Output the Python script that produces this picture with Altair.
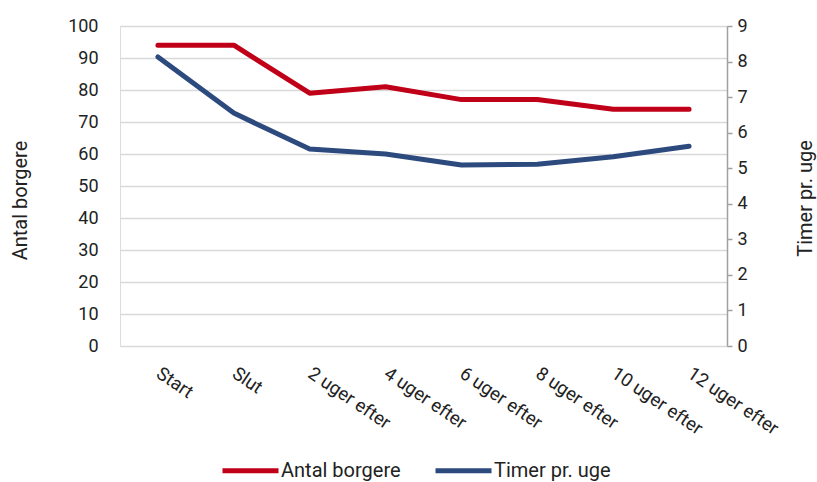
import altair as alt
import pandas as pd

# Measurement points along the x axis
periods = ["Start", "Slut", "2 uger efter", "4 uger efter", "6 uger efter",
           "8 uger efter", "10 uger efter", "12 uger efter"]
# Number of citizens (left axis)
borgere = [94, 94, 79, 81, 77, 77, 74, 74]
# Hours per week (right axis)
timer = [8.13, 6.55, 5.54, 5.40, 5.09, 5.11, 5.32, 5.62]

series_names = ["Antal borgere", "Timer pr. uge"]
series_colors = ["#C00018", "#2C4A7E"]

FONT = "Roboto"
TEXT = "#222222"

df_b = pd.DataFrame({"periode": periods, "value": borgere, "serie": series_names[0]})
df_t = pd.DataFrame({"periode": periods, "value": timer, "serie": series_names[1]})

x_enc = alt.X(
    "periode:O",
    sort=periods,
    scale=alt.Scale(type="point", padding=0.5),
    axis=alt.Axis(
        title=None, domain=False, ticks=False, labelAngle=34, labelAlign="left",
        labelBaseline="middle", labelPadding=25, labelFontSize=18.5, labelFont=FONT,
        labelColor=TEXT,
    ),
)

color_enc = alt.Color(
    "serie:N",
    scale=alt.Scale(domain=series_names, range=series_colors),
    legend=alt.Legend(
        title=None, orient="none", direction="horizontal", legendX=100, legendY=414,
        symbolType="stroke", symbolSize=3136, symbolStrokeWidth=5,
        labelFontSize=20, labelFont=FONT, labelColor=TEXT, labelOffset=0,
        columnPadding=24, labelLimit=300,
    ),
)

line_b = alt.Chart(df_b).mark_line(strokeWidth=5, strokeCap="round", strokeJoin="round").encode(
    x=x_enc,
    y=alt.Y(
        "value:Q",
        scale=alt.Scale(domain=[0, 100], nice=False),
        axis=alt.Axis(
            title="Antal borgere", values=list(range(0, 101, 10)), domain=False, ticks=False,
            grid=True, gridColor="#d9d9d9", gridWidth=1.5, labelFontSize=18, labelFont=FONT,
            labelColor=TEXT, labelPadding=22, titleFontSize=20, titleFont=FONT,
            titleFontWeight="normal", titleColor=TEXT, titleAngle=270,
            titleX=-100, titleY=174, titleAlign="center", titleBaseline="middle",
        ),
    ),
    color=color_enc,
)

line_t = alt.Chart(df_t).mark_line(strokeWidth=5, strokeCap="round", strokeJoin="round").encode(
    x=x_enc,
    y=alt.Y(
        "value:Q",
        scale=alt.Scale(domain=[0, 9], nice=False),
        axis=alt.Axis(
            title="Timer pr. uge", orient="right", values=list(range(0, 10)), grid=False,
            domain=True, domainColor="#a0a0a0", domainWidth=1.5, ticks=True, tickSize=5,
            tickColor="#a0a0a0", tickWidth=1.5, labelFontSize=18, labelFont=FONT,
            labelColor=TEXT, labelPadding=5, titleFontSize=20, titleFont=FONT,
            titleFontWeight="normal", titleColor=TEXT, titleAngle=270,
            titleX=78, titleY=172, titleAlign="center", titleBaseline="middle",
        ),
    ),
    color=color_enc,
)

chart = (
    alt.layer(line_b, line_t)
    .resolve_scale(y="independent")
    .properties(
        width=607, height=320,
        autosize=alt.AutoSizeParams(type="none"),
        padding={"left": 120, "top": 26, "right": 90, "bottom": 136},
    )
    .configure_view(stroke=None)
    .configure(background="white")
)

chart.save("out.html", embed_options={"renderer": "svg", "actions": False})
